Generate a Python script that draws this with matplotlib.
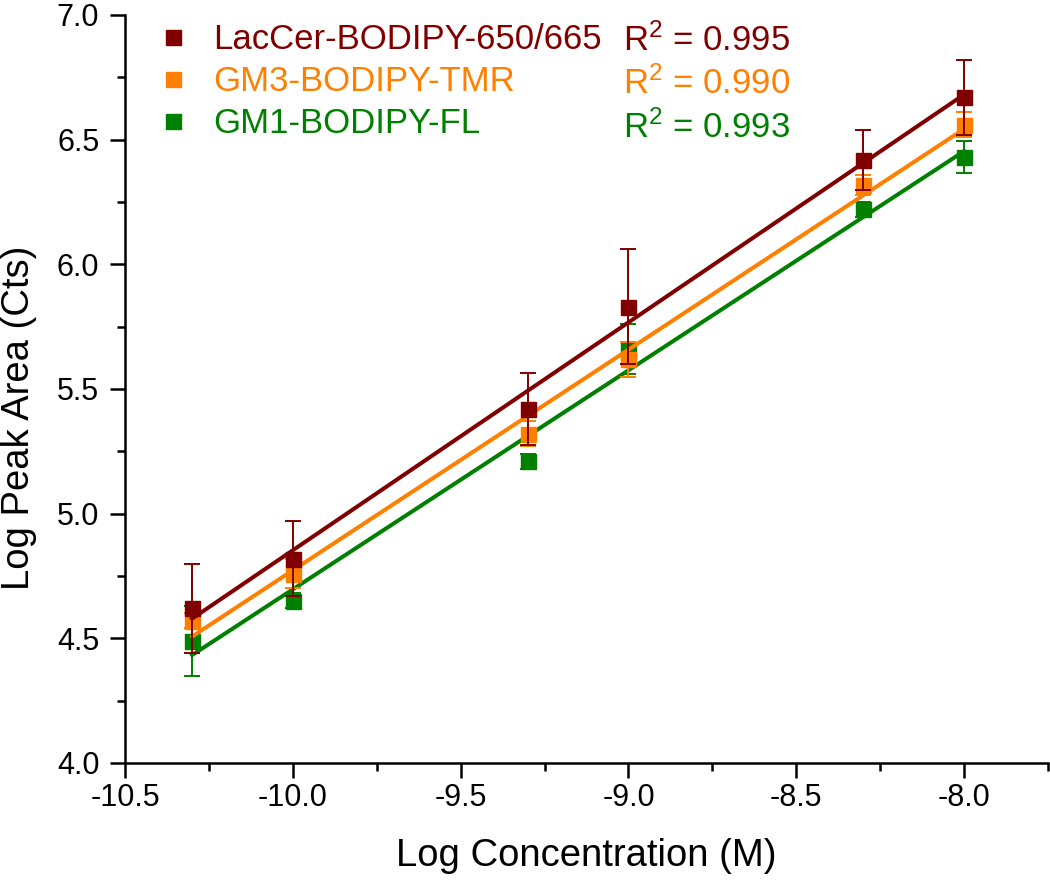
import numpy as np
import matplotlib
matplotlib.use('Agg')
import matplotlib.pyplot as plt
from matplotlib.lines import Line2D
from matplotlib.ticker import MultipleLocator, FormatStrFormatter

plt.rcParams['font.family'] = ['Liberation Sans', 'DejaVu Sans']
plt.rcParams['mathtext.fontset'] = 'custom'
plt.rcParams['mathtext.rm'] = 'Liberation Sans'
plt.rcParams['mathtext.it'] = 'Liberation Sans:italic'
plt.rcParams['mathtext.bf'] = 'Liberation Sans:bold'

# Log concentration (M)
log_conc = [-10.3, -10.0, -9.3, -9.0, -8.3, -8.0]

# Log peak area and error for each probe
lac_vals = [4.62, 4.82, 5.42, 5.83, 6.42, 6.67]
lac_err = [0.18, 0.15, 0.145, 0.23, 0.12, 0.15]
gm3_vals = [4.57, 4.76, 5.32, 5.62, 6.32, 6.56]
gm3_err = [0.03, 0.06, 0.05, 0.07, 0.04, 0.05]
gm1_vals = [4.49, 4.65, 5.21, 5.66, 6.22, 6.43]
gm1_err = [0.14, 0.03, 0.03, 0.10, 0.03, 0.065]

names = ['LacCer-BODIPY-650/665', 'GM3-BODIPY-TMR', 'GM1-BODIPY-FL']
r2_labels = ['R$^2$ = 0.995', 'R$^2$ = 0.990', 'R$^2$ = 0.993']
colors = ['#800000', '#FF8000', '#008000']

fig = plt.figure(figsize=(10.5, 8.84), dpi=100)
ax = fig.add_axes([125 / 1050, 1 - 763 / 884, 923 / 1050, 748 / 884])

series = [(lac_vals, lac_err), (gm3_vals, gm3_err), (gm1_vals, gm1_err)]

# draw green first, maroon last (maroon sits on top)
for i in [2, 1, 0]:
    vals, err = series[i]
    c = colors[i]
    ax.errorbar(log_conc, vals, yerr=err, fmt='s', color=c, ecolor=c,
                markersize=10.8, elinewidth=1.4, capsize=5.5, capthick=1.4,
                zorder=3 + (2 - i))
    slope, icpt = np.polyfit(log_conc, vals, 1)
    xs = np.array([min(log_conc), max(log_conc)])
    ax.plot(xs, slope * xs + icpt, color=c, lw=2.9, zorder=3 + (2 - i))

ax.set_xlim(-10.5, -7.75)
ax.set_ylim(4.0, 7.0)
ax.xaxis.set_major_locator(MultipleLocator(0.5))
ax.xaxis.set_minor_locator(MultipleLocator(0.25))
ax.yaxis.set_major_locator(MultipleLocator(0.5))
ax.yaxis.set_minor_locator(MultipleLocator(0.25))
ax.xaxis.set_major_formatter(FormatStrFormatter('%.1f'))
ax.yaxis.set_major_formatter(FormatStrFormatter('%.1f'))

for s in ['top', 'right']:
    ax.spines[s].set_visible(False)
for s in ['left', 'bottom']:
    ax.spines[s].set_linewidth(1.8)

ax.tick_params(which='major', direction='out', length=10.5, width=1.8,
               labelsize=22)
ax.tick_params(which='minor', direction='out', length=5.5, width=1.8)
ax.tick_params(axis='x', which='major', pad=4)
ax.tick_params(axis='y', which='major', pad=8)

ax.set_xlabel('Log Concentration (M)', fontsize=27.5, labelpad=18)
ax.set_ylabel('Log Peak Area (Cts)', fontsize=27.5)
ax.yaxis.set_label_coords(-0.095, 0.461)

handles = [Line2D([], [], marker='s', linestyle='none', color=c,
                  markersize=10.8) for c in colors]
leg1 = ax.legend(handles, names, loc='upper left',
                 bbox_to_anchor=(0.034, 0.989), frameon=False,
                 fontsize=25, handlelength=0.95, handletextpad=0.68,
                 labelspacing=0.26, borderpad=0, borderaxespad=0,
                 labelcolor=colors)
ax.add_artist(leg1)

blank = [Line2D([], [], linestyle='none') for c in colors]
ax.legend(blank, r2_labels, loc='upper left',
          bbox_to_anchor=(0.540, 0.989), frameon=False,
          fontsize=25, handlelength=0, handletextpad=0,
          labelspacing=0.26, borderpad=0, borderaxespad=0,
          labelcolor=colors)

fig.savefig('out.png', dpi=100)
